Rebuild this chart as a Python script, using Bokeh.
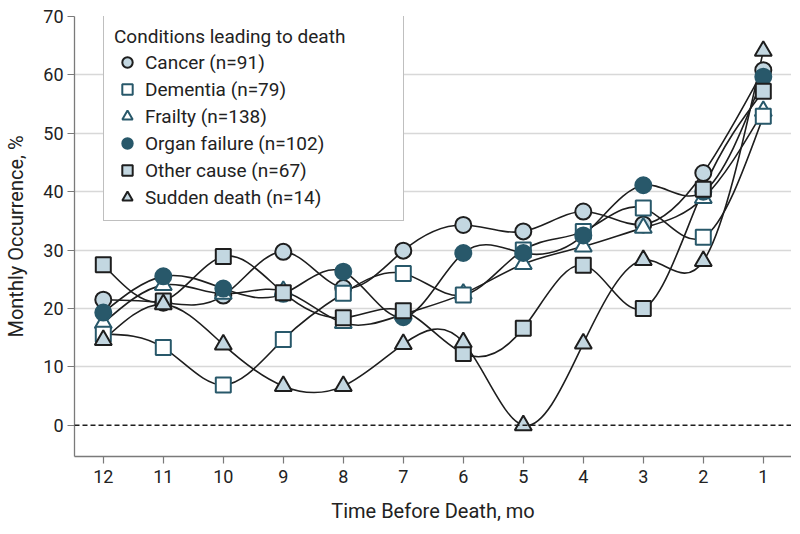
import numpy as np
from bokeh.plotting import figure
from bokeh.models import (Range1d, Legend, LegendItem, Span, FixedTicker,
                          ColumnDataSource)
from bokeh.embed import file_html
from bokeh.resources import INLINE

# ---------------- data ----------------
months = [12, 11, 10, 9, 8, 7, 6, 5, 4, 3, 2, 1]
month_labels = ["12", "11", "10", "9", "8", "7", "6", "5", "4", "3", "2", "1"]
y_ticks = [0, 10, 20, 30, 40, 50, 60, 70]

cancer = [21.5, 21.0, 22.2, 29.7, 23.5, 29.9, 34.3, 33.2, 36.6, 34.4, 43.2, 60.8]
dementia = [15.6, 13.3, 6.9, 14.7, 22.6, 26.0, 22.3, 30.0, 33.2, 37.2, 32.2, 52.9]
frailty = [17.5, 24.0, 22.5, 23.0, 17.5, 19.0, 22.5, 27.6, 30.6, 33.8, 38.9, 53.8]
organ_failure = [19.3, 25.5, 23.4, 22.5, 26.3, 18.5, 29.5, 29.5, 32.5, 41.1, 40.0, 59.7]
other_cause = [27.5, 21.3, 28.9, 22.7, 18.4, 19.6, 12.3, 16.6, 27.4, 20.0, 40.4, 57.2]
sudden_death = [14.6, 20.7, 13.8, 6.7, 6.7, 13.9, 14.2, 0.0, 14.0, 28.3, 28.1, 64.1]

series_names = ["Cancer (n=91)", "Dementia (n=79)", "Frailty (n=138)",
                "Organ failure (n=102)", "Other cause (n=67)", "Sudden death (n=14)"]

FONT = "Roboto"
LIGHT = "#c3d7e1"
DARK = "#28586a"
BLACK = "#1e1e1e"

styles = {
    "Cancer (n=91)": dict(data=cancer, marker="circle", fill=LIGHT, line=BLACK, size=16),
    "Dementia (n=79)": dict(data=dementia, marker="square", fill="white", line=DARK, size=15),
    "Frailty (n=138)": dict(data=frailty, marker="triangle", fill="white", line=DARK, size=17),
    "Organ failure (n=102)": dict(data=organ_failure, marker="circle", fill=DARK, line=DARK, size=16),
    "Other cause (n=67)": dict(data=other_cause, marker="square", fill=LIGHT, line=BLACK, size=15),
    "Sudden death (n=14)": dict(data=sudden_death, marker="triangle", fill=LIGHT, line=BLACK, size=17),
}
draw_order = ["Cancer (n=91)", "Frailty (n=138)", "Dementia (n=79)",
              "Organ failure (n=102)", "Other cause (n=67)", "Sudden death (n=14)"]


def spline_beziers(xs, ys):
    """Natural cubic spline through the points, returned as bezier segments."""
    xs = np.asarray(xs, float)
    ys = np.asarray(ys, float)
    n = len(ys)
    A = np.zeros((n, n))
    b = np.zeros(n)
    A[0, 0] = A[-1, -1] = 1.0
    for i in range(1, n - 1):
        A[i, i - 1], A[i, i], A[i, i + 1] = 1.0, 4.0, 1.0
        b[i] = 6.0 * (ys[i + 1] - 2 * ys[i] + ys[i - 1])
    M = np.linalg.solve(A, b)
    d = ys[1:] - ys[:-1]
    d0 = d - (2 * M[:-1] + M[1:]) / 6.0
    d1 = d + (M[:-1] + 2 * M[1:]) / 6.0
    dx = xs[1:] - xs[:-1]
    return dict(x0=xs[:-1], y0=ys[:-1], x1=xs[1:], y1=ys[1:],
                cx0=xs[:-1] + dx / 3.0, cy0=ys[:-1] + d0 / 3.0,
                cx1=xs[1:] - dx / 3.0, cy1=ys[1:] - d1 / 3.0)


p = figure(width=791, height=525, output_backend="svg", toolbar_location=None,
           x_range=Range1d(12.48, 0.53), y_range=Range1d(-5.35, 70),
           min_border_left=74, min_border_right=0, min_border_top=16,
           min_border_bottom=68)
p.outline_line_color = None
p.background_fill_color = "white"
p.border_fill_color = "white"

# grid
p.xgrid.visible = False
p.ygrid.ticker = FixedTicker(ticks=[10, 20, 30, 40, 50, 60, 70])
p.ygrid.grid_line_color = "#d8d8d8"
p.ygrid.grid_line_width = 1.5

p.add_layout(Span(location=0, dimension="width", line_color=BLACK,
                  line_dash="5 3", line_width=1.5))

# curves
for name in draw_order:
    st = styles[name]
    src = ColumnDataSource(spline_beziers(months, st["data"]))
    p.bezier(x0="x0", y0="y0", x1="x1", y1="y1", cx0="cx0", cy0="cy0",
             cx1="cx1", cy1="cy1", source=src, line_color=BLACK, line_width=1.6)

# markers
renderers = {}
for name in draw_order:
    st = styles[name]
    r = p.scatter(months, st["data"], marker=st["marker"], size=st["size"],
                  fill_color=st["fill"], line_color=st["line"], line_width=2)
    renderers[name] = r

legend = Legend(items=[LegendItem(label=n, renderers=[renderers[n]]) for n in series_names],
                location=(29, 235), title="Conditions leading to death",
                title_text_font=FONT, title_text_font_size="19px",
                title_text_font_style="normal", title_text_color="#222222",
                title_standoff=1,
                label_text_font=FONT, label_text_font_size="19px",
                label_text_color="#222222",
                glyph_width=26, glyph_height=26, label_height=26, label_width=248,
                spacing=1, padding=10, label_standoff=5, margin=0,
                border_line_color="#808080", border_line_width=1.2,
                background_fill_alpha=1.0)
p.add_layout(legend, "center")

# axes
for ax in (p.xaxis[0], p.yaxis[0]):
    ax.axis_line_color = "#7a7a7a"
    ax.axis_line_width = 1.3
    ax.major_tick_line_color = "#7a7a7a"
    ax.major_tick_line_width = 1.2
    ax.major_tick_out = 7
    ax.major_tick_in = 0
    ax.minor_tick_line_color = None
    ax.major_label_text_font = FONT
    ax.major_label_text_font_size = "18px"
    ax.major_label_text_color = "#222222"
    ax.axis_label_text_font = FONT
    ax.axis_label_text_font_size = "20px"
    ax.axis_label_text_font_style = "normal"
    ax.axis_label_text_color = "#222222"

p.xaxis.ticker = FixedTicker(ticks=months)
p.xaxis.major_label_overrides = {m: l for m, l in zip(months, month_labels)}
p.xaxis.axis_label = "Time Before Death, mo"
p.xaxis.major_label_standoff = 6
p.xaxis.axis_label_standoff = 13

p.yaxis.ticker = FixedTicker(ticks=y_ticks)
p.yaxis.axis_label = "Monthly Occurrence, %"
p.yaxis.major_label_standoff = 4
p.yaxis.axis_label_standoff = 12

open("out.html", "w").write(file_html(p, INLINE))
